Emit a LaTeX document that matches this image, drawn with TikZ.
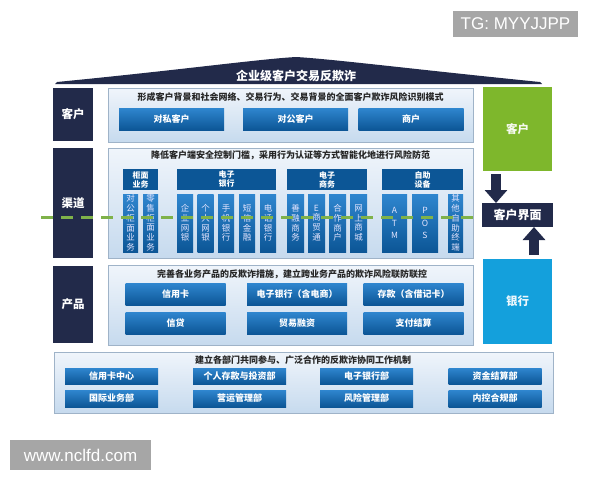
\documentclass[tikz,border=0pt]{standalone}
\usepackage{fontspec}
\newfontfamily\cjk{Noto Sans CJK SC}
\newfontfamily\wmfont{Liberation Sans}
\usepackage{xcolor}
\definecolor{navy}{HTML}{222A4A}
\definecolor{leaf}{HTML}{7EB72C}
\definecolor{sky}{HTML}{14A0DC}
\definecolor{dgreen}{HTML}{7FB24A}
\definecolor{btntop}{HTML}{2F86CF}
\definecolor{btnbot}{HTML}{0C5696}
\definecolor{paneltop}{HTML}{F0F5FB}
\definecolor{panelbot}{HTML}{C6DAEE}
\definecolor{panelrim}{HTML}{9FB3C8}
\definecolor{wmgray}{HTML}{A6A6A6}
\usetikzlibrary{arrows.meta, positioning}

\tikzset{
  sidebox/.style={fill=navy, text=white, anchor=north west, minimum width=40pt,
    font=\cjk\bfseries\fontsize{11.5}{12}\selectfont},
  panel/.style={draw=panelrim, top color=paneltop, bottom color=panelbot, anchor=north west},
  ttl/.style={text=black!85, font=\cjk\bfseries\fontsize{9}{10}\selectfont},
  btn/.style={top color=btntop, bottom color=btnbot, text=white,
    font=\cjk\bfseries\fontsize{9}{10}\selectfont},
  hdr/.style={fill=btnbot, text=white, anchor=north west, minimum height=21pt, align=center,
    font=\cjk\bfseries\fontsize{8}{9}\selectfont},
  vbox/.style={top color=btntop, bottom color=btnbot, text=white!90!blue, anchor=north west,
    minimum height=58pt, align=center, font=\cjk\fontsize{8.5}{9.7}\selectfont},
  dashline/.style={draw=dgreen, line width=3pt, dash pattern=on 12pt off 8pt},
  blockarrow/.style={draw=navy, line width=10pt, -{Triangle[width=22pt,length=13pt]}},
  wm/.style={fill=wmgray, text=white, anchor=north west, font=\wmfont\fontsize{17}{18}\selectfont}
}

\begin{document}
\begin{tikzpicture}[x=1pt, y=-1pt, every node/.style={inner sep=0pt, outer sep=0pt}]
  \useasboundingbox[fill=white] (0,0) rectangle (600,480);

  % roof
  \fill[navy] (55,84) -- (57,82) .. controls (180,70) and (260,59) .. (296,57)
    .. controls (332,59) and (420,70) .. (540,82) -- (542,84) -- cycle;
  \node[text=white, font=\cjk\bfseries\fontsize{12}{13}\selectfont] (roof) at (296,76) {企业级客户交易反欺诈};

  % left labels
  \node[sidebox, minimum height=53pt] (sk) at (53,88) {客户};
  \node[sidebox, minimum height=110pt] (sq) at (53,148) {渠道};
  \node[sidebox, minimum height=77pt] (sp) at (53,266) {产品};

  % panels
  \node[panel, minimum width=365pt, minimum height=54pt] (pk) at (108,88) {};
  \node[panel, minimum width=365pt, minimum height=110pt] (pq) at (108,148) {};
  \node[panel, minimum width=365pt, minimum height=80pt] (pp) at (108,265) {};
  \node[panel, minimum width=499pt, minimum height=61pt] (pb) at (54,352) {};

  \node[ttl] (tk) at (290.5,97) {形成客户背景和社会网络、交易行为、交易背景的全面客户欺诈风险识别模式};
  \node[ttl] (tq) at (290.5,155) {降低客户端安全控制门槛，采用行为认证等方式智能化地进行风险防范};
  \node[ttl] (tp) at (292,274) {完善各业务产品的反欺诈措施，建立跨业务产品的欺诈风险联防联控};
  \node[ttl] (tb) at (303,360) {建立各部门共同参与、广泛合作的反欺诈协同工作机制};

  % customers
  \foreach \x/\t [count=\i] in {171.5/对私客户, 295.5/对公客户, 411/商户}
    \node[btn, minimum width=105pt, minimum height=22pt] (k\i) at (\x,119) {\t};

  % channels
  \node[hdr, minimum width=35pt] (h1) at (123,169) {柜面\\业务};
  \node[hdr, minimum width=99pt] (h2) at (177,169) {电子\\银行};
  \node[hdr, minimum width=80pt] (h3) at (287,169) {电子\\商务};
  \node[hdr, minimum width=81pt] (h4) at (382,169) {自助\\设备};
  \foreach \x/\w/\t [count=\i] in {
      123/15/{对\\公\\柜\\面\\业\\务}, 143/15/{零\\售\\柜\\面\\业\\务},
      177/16/{企\\业\\网\\银}, 197.5/16/{个\\人\\网\\银}, 218/16/{手\\机\\银\\行},
      239/16/{短\\信\\金\\融}, 260/16/{电\\话\\银\\行},
      287/17/{善\\融\\商\\务}, 308/17/{E\\商\\贸\\通}, 329/17/{合\\作\\商\\户},
      350/17/{网\\上\\商\\城},
      382/25/{A\\[3pt]T\\[3pt]M}, 412/26/{P\\[3pt]O\\[3pt]S},
      448/15/{其\\他\\自\\助\\终\\端}}
    \node[vbox, minimum width=\w] (v\i) at (\x,194) {\t};

  % products
  \foreach \x/\t [count=\i] in {175.5/信用卡, 297/电子银行（含电商）, 413.5/存款（含借记卡）}
    \node[btn, minimum width=100pt, minimum height=22pt] (pa\i) at (\x,294) {\t};
  \foreach \x/\t [count=\i] in {175.5/信贷, 297/贸易融资, 413.5/支付结算}
    \node[btn, minimum width=100pt, minimum height=22pt] (pb\i) at (\x,323) {\t};

  % departments
  \foreach \x/\t [count=\i] in {111.5/信用卡中心, 239.5/个人存款与投资部, 366.5/电子银行部, 495/资金结算部}
    \node[btn, minimum width=93pt, minimum height=16pt] (da\i) at (\x,376) {\t};
  \foreach \x/\t [count=\i] in {111.5/国际业务部, 239.5/营运管理部, 366.5/风险管理部, 495/内控合规部}
    \node[btn, minimum width=93pt, minimum height=17pt] (db\i) at (\x,398.5) {\t};

  % right column
  \node[fill=leaf, text=white!92!leaf, anchor=north west, minimum width=69pt, minimum height=84pt,
    font=\cjk\bfseries\fontsize{11.5}{12}\selectfont] (cust) at (483,87) {客户};
  \node[fill=navy, text=white, anchor=north west, minimum width=71pt, minimum height=24pt,
    font=\cjk\bfseries\fontsize{12}{13}\selectfont] (jiemian) at (482,203) {客户界面};
  \node[fill=sky, text=white!92!sky, anchor=north west, minimum width=69pt, minimum height=85pt,
    font=\cjk\bfseries\fontsize{11.5}{12}\selectfont] (bank) at (483,259) {银行};
  \coordinate (a1) at (496,0);
  \coordinate (a2) at (534,0);
  \draw[blockarrow, shorten <=3pt] (cust.south -| a1) -- (jiemian.north -| a1);
  \draw[blockarrow, shorten <=4pt] (bank.north -| a2) -- (jiemian.south -| a2);

  % dashed divider
  \coordinate (dl) at (41,217);
  \coordinate (dr) at (473,217);
  \draw[dashline] (dl) -- (dr);

  % marks
  \node[wm, minimum width=125pt, minimum height=26pt] (tg) at (453,11) {TG: MYYJJPP};
  \node[wm, minimum width=141pt, minimum height=30pt] (url) at (10,440) {www.nclfd.com};
\end{tikzpicture}
\end{document}
